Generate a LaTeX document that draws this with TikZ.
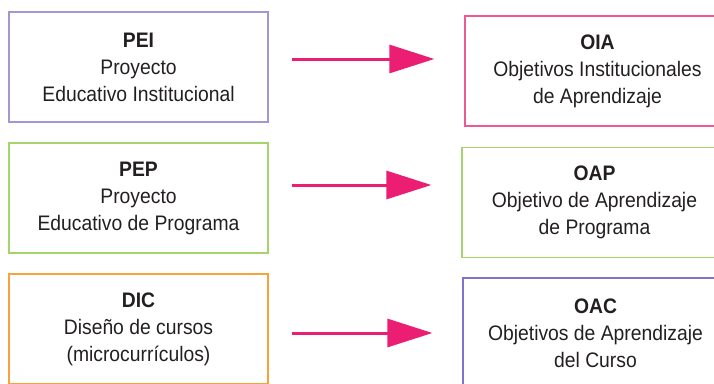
\documentclass[tikz,border=0pt]{standalone}
\usepackage{fontspec}
\setmainfont{Liberation Sans}[FakeStretch=0.92]
\usepackage{tikz}
\usetikzlibrary{positioning, arrows.meta}

\definecolor{lila}{HTML}{A098D4}
\definecolor{morado}{HTML}{7E72CF}
\definecolor{rosa}{HTML}{EC5A94}
\definecolor{verde}{HTML}{A6D46C}
\definecolor{naranja}{HTML}{F7A23B}
\definecolor{magenta}{HTML}{EC1E73}
\definecolor{texto}{HTML}{231F20}

\tikzset{
    caja/.style={draw=#1, line width=1.2pt, minimum height=110pt, inner sep=0pt,
        align=center, text=texto, font=\fontsize{21}{27}\selectfont},
    plan/.style={caja=#1, minimum width=259pt},
    meta/.style={caja=#1, minimum width=265pt},
    flecha/.style={-{Triangle[length=45pt, width=28pt]}, line width=3pt, magenta}
}

\begin{document}
\begin{tikzpicture}[x=1pt, y=-1pt]
    \useasboundingbox (0, 0) rectangle (714, 383);
    \clip (0, 0) rectangle (714, 383);
    % Planes (left column)
    \node [plan=lila] (pei) at (138.5, 67) {\bfseries PEI\\Proyecto\\Educativo Institucional};
    \node [plan=verde] (pep) at (138.5, 198) {\bfseries PEP\\Proyecto\\Educativo de Programa};
    \node [plan=naranja] (dic) at (138.5, 329) {\bfseries DIC\\Diseño de cursos\\(microcurrículos)};
    % Objetivos (right column)
    \node [meta=rosa] (oia) at (597.5, 71) {\bfseries OIA\\Objetivos Institucionales\\de Aprendizaje};
    \node [meta=verde] (oap) at (594.5, 202.5) {\bfseries OAP\\Objetivo de Aprendizaje\\de Programa};
    \node [meta=morado] (oac) at (595.5, 333) {\bfseries OAC\\Objetivos de Aprendizaje\\del Curso};
    % Flechas
    \draw [flecha] ([xshift=23pt, yshift=8pt]pei.east) -- ([xshift=-30pt, yshift=12pt]oia.west);
    \draw [flecha] ([xshift=23pt, yshift=13pt]pep.east) -- ([xshift=-30pt, yshift=17.5pt]oap.west);
    \draw [flecha] ([xshift=23pt, yshift=-4pt]dic.east) -- ([xshift=-30pt, yshift=0pt]oac.west);
\end{tikzpicture}
\end{document}
